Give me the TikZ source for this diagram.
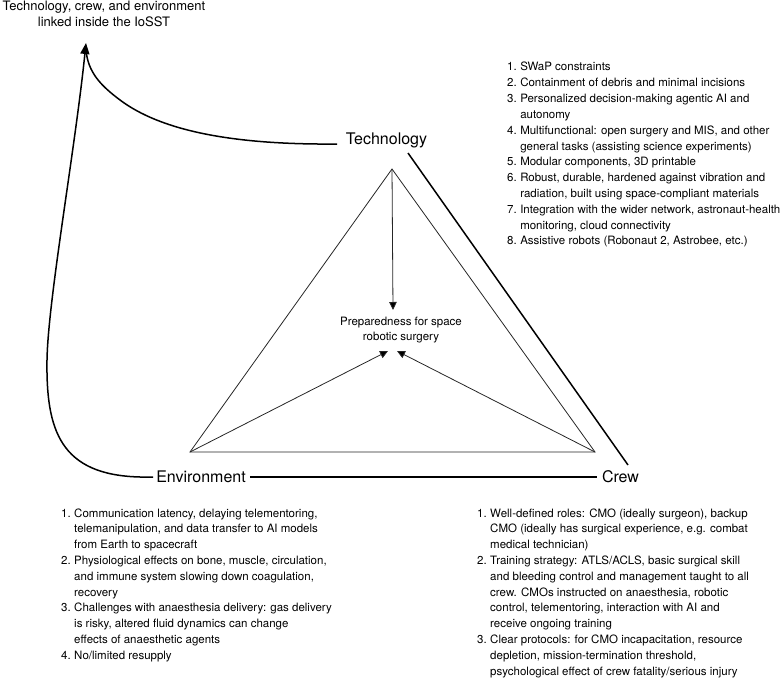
\documentclass[tikz,border=0pt]{standalone}
\usepackage{fontspec}
\setmainfont{TeX Gyre Heros}
\usetikzlibrary{arrows.meta}
\begin{document}
\begin{tikzpicture}[x=1pt,y=-1pt,
  thinln/.style={line width=0.8pt, draw=black!85},
  thickln/.style={line width=1.5pt, draw=black},
  smallhead/.style={-{Triangle[length=8pt,width=7.5pt,fill=black]}},
  bighead/.style={-{Triangle[length=11pt,width=9pt]}},
  lbl/.style={font=\fontsize{16}{19}\selectfont, inner sep=0pt, anchor=center},
  lst/.style={font=\fontsize{11.5}{15.8}\selectfont, inner sep=0pt, anchor=base west},
  ttl/.style={font=\fontsize{13}{16.5}\selectfont, inner sep=0pt, anchor=base, align=center},
]
\useasboundingbox (0,0) rectangle (783,682);

% title and labels (base anchor = last line)
\node[ttl] (title) at (104,27) {Technology, crew, and environment\\linked inside the IoSST};
\node[lbl] (tech) at (386.5,140) {Technology};
\node[lbl] (env) at (201,477) {Environment};
\node[lbl] (crew) at (620.5,477) {Crew};
\node[ttl, font=\fontsize{11.5}{15}\selectfont] (prep) at (401,340) {Preparedness for space\\robotic surgery};

% triangle
\coordinate (A) at (392,169);
\coordinate (B) at (190,452);
\coordinate (C) at (595,452);
\draw[thinln] (A) -- (B) -- (C) -- cycle;
\coordinate (pA) at (393,310);
\coordinate (pB) at (388,351);
\coordinate (pC) at (397,351);
\draw[thinln, smallhead] (A) -- (pA);
\draw[thinln, smallhead] (B) -- (pB);
\draw[thinln, smallhead] (C) -- (pC);

% thick connectors
\draw[thickln] ([xshift=4pt]env.east) -- ([xshift=-5pt]crew.west);
\coordinate (dT) at (408,153);
\coordinate (dC) at (628,465);
\draw[thickln] (dT) -- (dC);

\coordinate (tip) at (86,43);
\coordinate (tipin) at (86,50);
\coordinate (tL) at (337,144);
\coordinate (eL) at (153,477);
\draw[thickln] (tL) .. controls (230,145) and (160,130) .. (120,100)
   .. controls (100,85) and (88,72) .. (tipin);
\draw[thickln, bighead] (eL) -- (140,477) .. controls (60,475) and (46,430) .. (47,360)
   .. controls (48,300) and (75,150) .. (tip);

% lists
\node[lst] (techlist) at (507,71) {\begin{tabular}[t]{@{}l@{\hspace{0.3em}}l@{}}
1. & SWaP constraints\\
2. & Containment of debris and minimal incisions\\
3. & Personalized decision-making agentic AI and\\
   & autonomy\\
4. & Multifunctional: open surgery and MIS, and other\\
   & general tasks (assisting science experiments)\\
5. & Modular components, 3D printable\\
6. & Robust, durable, hardened against vibration and\\
   & radiation, built using space-compliant materials\\
7. & Integration with the wider network, astronaut-health\\
   & monitoring, cloud connectivity\\
8. & Assistive robots (Robonaut 2, Astrobee, etc.)
\end{tabular}};

\node[lst] (envlist) at (61,517) {\begin{tabular}[t]{@{}l@{\hspace{0.3em}}l@{}}
1. & Communication latency, delaying telementoring,\\
   & telemanipulation, and data transfer to AI models\\
   & from Earth to spacecraft\\
2. & Physiological effects on bone, muscle, circulation,\\
   & and immune system slowing down coagulation,\\
   & recovery\\
3. & Challenges with anaesthesia delivery: gas delivery\\
   & is risky, altered fluid dynamics can change\\
   & effects of anaesthetic agents\\
4. & No/limited resupply
\end{tabular}};

\node[lst] (crewlist) at (477,517) {\begin{tabular}[t]{@{}l@{\hspace{0.3em}}l@{}}
1. & Well-defined roles: CMO (ideally surgeon), backup\\
   & CMO (ideally has surgical experience, e.g. combat\\
   & medical technician)\\
2. & Training strategy: ATLS/ACLS, basic surgical skill\\
   & and bleeding control and management taught to all\\
   & crew. CMOs instructed on anaesthesia, robotic\\
   & control, telementoring, interaction with AI and\\
   & receive ongoing training\\
3. & Clear protocols: for CMO incapacitation, resource\\
   & depletion, mission-termination threshold,\\
   & psychological effect of crew fatality/serious injury
\end{tabular}};
\end{tikzpicture}
\end{document}
